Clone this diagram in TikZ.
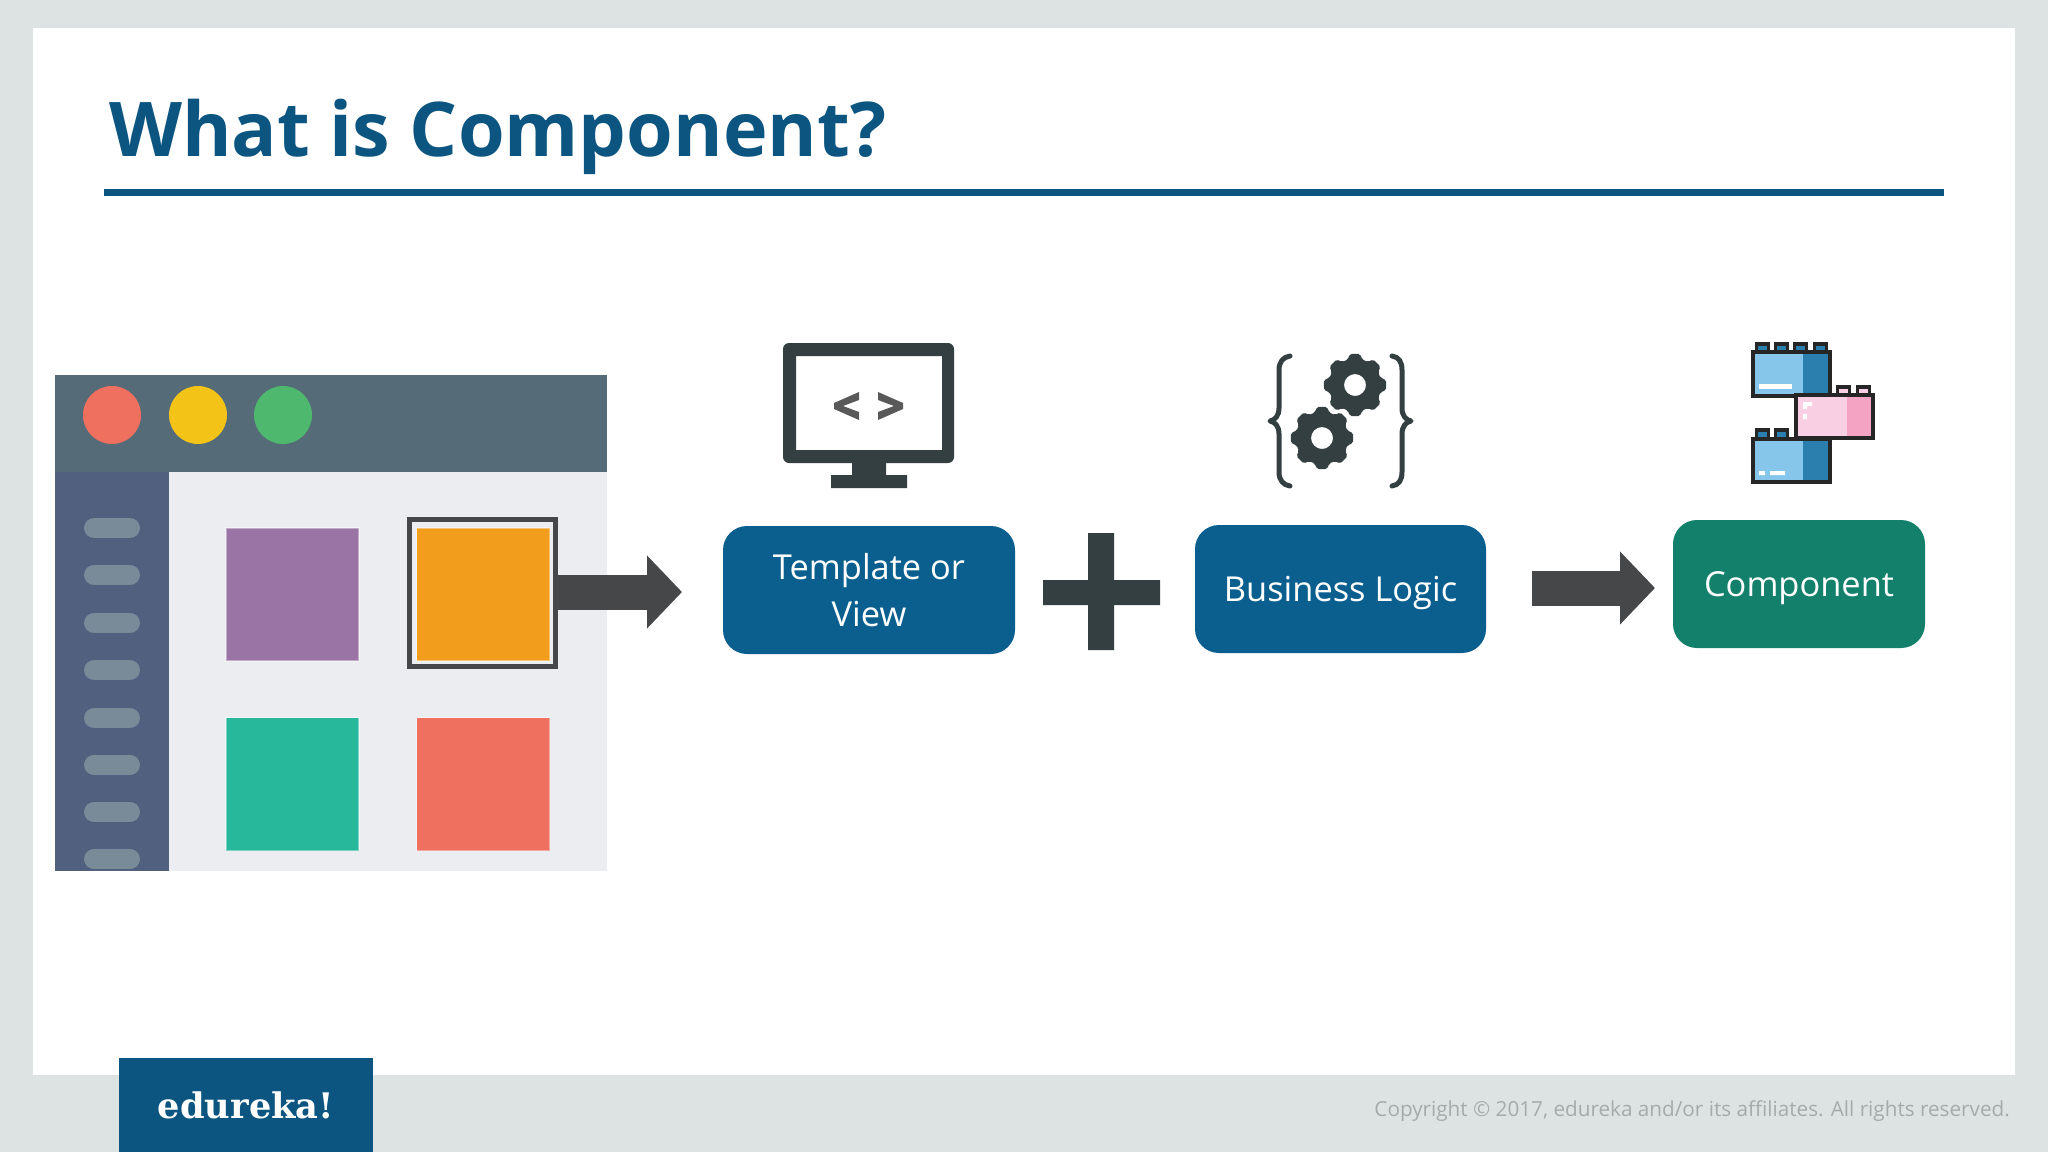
\documentclass[tikz,border=0pt]{standalone}
\usepackage{fontspec}
\setmainfont{Open Sans}
\newfontfamily\logofont{DejaVu Serif}
\usetikzlibrary{arrows.meta}
\definecolor{slidegray}{HTML}{DDE3E2}
\definecolor{titleblue}{HTML}{0B5580}
\definecolor{boxblue}{HTML}{0B5F8F}
\definecolor{boxgreen}{HTML}{13806B}
\definecolor{darkicon}{HTML}{333F41}
\definecolor{arrowgray}{HTML}{464749}
\definecolor{legoblue}{HTML}{85C6EA}
\definecolor{legodeep}{HTML}{2A7FAE}
\definecolor{legopink}{HTML}{F9CFE3}
\definecolor{legorose}{HTML}{F4A3C3}
\definecolor{winbody}{HTML}{ECEDF1}
\definecolor{winhead}{HTML}{566B78}
\definecolor{winside}{HTML}{52607F}
\definecolor{winpill}{HTML}{798B99}
\definecolor{btnredc}{HTML}{F0705F}
\definecolor{btnyellowc}{HTML}{F3C318}
\definecolor{btngreenc}{HTML}{4FB86F}
\definecolor{sqpurplec}{HTML}{9B74A6}
\definecolor{sqorangec}{HTML}{F29D1B}
\definecolor{sqtealc}{HTML}{27B89B}
\definecolor{sqcoralc}{HTML}{F07060}
\definecolor{copygray}{HTML}{A5ABAB}
\tikzset{
    sqbox/.style={minimum size=133pt,inner sep=0pt,draw=white,draw opacity=0.4,line width=1.5pt},
    bluebox/.style={fill=boxblue,text=white,rounded corners=24pt,minimum height=128pt,inner sep=0pt,align=center,
        text depth=0pt,font=\fontsize{34.4}{47}\selectfont},
    bigarrow/.style={draw=arrowgray,line width=35pt,-{Triangle[length=35pt,width=71pt]}},
    dotbtn/.style={circle,minimum size=58pt,inner sep=0pt},
    pillbar/.style={draw=winpill,line width=20pt,line cap=round},
    brick/.style={draw=black!85,line width=4pt},
    bracket/.style={draw=darkicon,line width=5pt,line join=round,line cap=round},
    gearpic/.pic={
        \fill[darkicon,even odd rule,rounded corners=2pt]
            (-10:31.5pt) \foreach \a in {0,45,...,315} {
                -- (\a-10:31.5pt) -- (\a+10:31.5pt) -- (\a+15:26.5pt) -- (\a+30:26.5pt)
            } -- cycle
            (0,0) circle (11pt);
    },
}
\begin{document}
\begin{tikzpicture}[x=1pt,y=-1pt]
\useasboundingbox (0,0) rectangle (2048,1152);
\fill[slidegray] (0,0) rectangle (2048,1152);
\fill[white] (33,28) rectangle (2015,1075);
\node[anchor=base west,inner sep=0pt,text=titleblue,font=\fontsize{75.5}{80}\selectfont\bfseries] (title) at (109,156) {What is Component?};
\fill[titleblue] (104,189) rectangle (1944,196);
% window
\fill[winbody] (55,375) rectangle (607,871);
\fill[winhead] (55,375) rectangle (607,472);
\fill[winside] (55,472) rectangle (169,871);
\node[dotbtn,fill=btnredc] (btnred) at (112,415) {};
\node[dotbtn,fill=btnyellowc] (btnyellow) at (198,415) {};
\node[dotbtn,fill=btngreenc] (btngreen) at (283,415) {};
\foreach \y in {528,575,623,670,718,765,812,859}
    \draw[pillbar] (94,\y) -- (130,\y);
\node[sqbox,fill=sqpurplec] (sqpurple) at (292.5,594.5) {};
\node[sqbox,fill=sqorangec] (sqorange) at (483,594.5) {};
\node[sqbox,fill=sqtealc] (sqteal) at (292.5,784) {};
\node[sqbox,fill=sqcoralc] (sqcoral) at (483,784) {};
\node[draw=arrowgray,line width=5pt,minimum width=146pt,minimum height=147pt,inner sep=0pt] (frame) at (482.5,593) {};
% boxes
\node[bluebox,minimum width=292pt] (tplbox) at (869,590) {Template or\\View};
\node[bluebox,minimum width=291pt] (logicbox) at (1340.5,589) {Business Logic};
\node[bluebox,fill=boxgreen,minimum width=252pt] (compbox) at (1799,584) {Component};
% arrows
\coordinate (tipa) at (682,592);
\coordinate (taila) at (frame.east |- tipa);
\coordinate (tailb) at (1532,588);
\coordinate (tipb) at (1655,588);
\draw[bigarrow] (taila) -- (tipa);
\draw[bigarrow] (tailb) -- (tipb);
\fill[darkicon] (1043,580) rectangle (1160,605) (1088,533) rectangle (1114,650);
% monitor
\fill[darkicon,even odd rule] [rounded corners=6pt] (783,343) rectangle (954,463) [sharp corners] (796,356) rectangle (942,450);
\fill[darkicon] (852,463) rectangle (886,475) (831,475) rectangle (907,488);
\fill[black!65] (859,392) -- (834,403) -- (834,409) -- (859,420) -- (859,412) -- (843,406) -- (859,400) -- cycle;
\fill[black!65] (878,392) -- (903,403) -- (903,409) -- (878,420) -- (878,412) -- (894,406) -- (878,400) -- cycle;
% gears
\pic at (1355,385) {gearpic};
\pic at (1322,438) {gearpic};
\draw[bracket] (1290,356) .. controls (1283,357) and (1279,362) .. (1279,370) -- (1279,408) .. controls (1279,416) and (1275,420) .. (1270,421) .. controls (1275,422) and (1279,426) .. (1279,434) -- (1279,472) .. controls (1279,480) and (1283,485) .. (1290,486);
\draw[bracket] (1392,356) .. controls (1399,357) and (1402,362) .. (1402,370) -- (1402,408) .. controls (1402,416) and (1406,420) .. (1411,421) .. controls (1406,422) and (1402,426) .. (1402,434) -- (1402,472) .. controls (1402,480) and (1399,485) .. (1392,486);
% lego
\foreach \x in {1755,1774,1793,1813} {
    \fill[black!85] (\x,342) rectangle (\x+15,350);
    \fill[legodeep] (\x+3,346) rectangle (\x+12,350);
}
\foreach \x in {1836,1856} {
    \fill[black!85] (\x,385) rectangle (\x+15,393);
    \fill[legopink] (\x+3,389) rectangle (\x+12,393);
}
\foreach \x in {1755,1774} {
    \fill[black!85] (\x,428) rectangle (\x+15,437);
    \fill[legodeep] (\x+3,432) rectangle (\x+12,437);
}
\fill[legoblue] (1753,352) rectangle (1803,396);
\fill[legodeep] (1803,352) rectangle (1830,396);
\draw[brick] (1753,352) rectangle (1830,396);
\fill[white] (1759,384) rectangle (1792,389);
\fill[legoblue] (1753,439) rectangle (1803,482);
\fill[legodeep] (1803,439) rectangle (1830,482);
\draw[brick] (1753,439) rectangle (1830,482);
\fill[white] (1759,471) rectangle (1765,475) (1770,471) rectangle (1785,475);
\fill[legopink] (1796,395) rectangle (1847,438);
\fill[legorose] (1847,395) rectangle (1873,438);
\draw[brick] (1796,395) rectangle (1873,438);
\fill[white] (1803,402) rectangle (1812,406) (1803,406) rectangle (1807,409) (1803,414) rectangle (1807,419);
% footer
\fill[titleblue] (119,1058) rectangle (373,1152);
\node[anchor=base,inner sep=0pt,text=white,font=\logofont\fontsize{35.2}{40}\selectfont\bfseries] (logo) at (246,1118) {edureka!};
\node[anchor=base east,inner sep=0pt,text=copygray,font=\fontsize{20.7}{26}\selectfont] (copyright) at (2010,1116) {Copyright © 2017, edureka and/or its affiliates. All rights reserved.};
\end{tikzpicture}
\end{document}
